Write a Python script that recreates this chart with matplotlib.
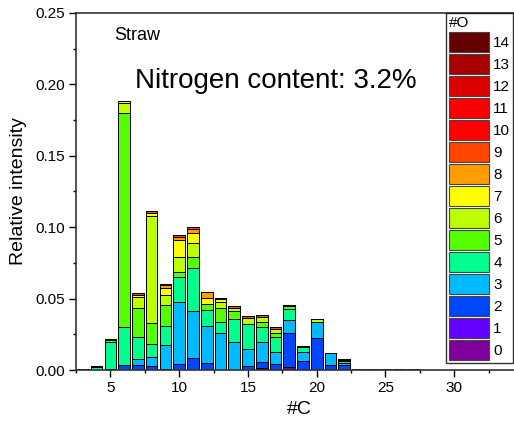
import numpy as np
import matplotlib
matplotlib.use("Agg")
import matplotlib.pyplot as plt
from matplotlib.patches import Patch
from matplotlib.ticker import MultipleLocator, FixedLocator, FormatStrFormatter

plt.rcParams['font.family'] = ['Liberation Sans', 'DejaVu Sans']

# carbon number of each bar
carbons = list(range(3, 28))
#       C: 3       4       5       6       7       8       9       10      11      12      13      14      15      16      17      18      19      20      21      22      23      24      25      26      27
o0  = [0,      0,      0,      0,      0,      0,      0,      0,      0,      0,      0,      0,      0,      0,      0,      0.0023, 0,      0,      0,      0,      0,      0,      0,      0,      0]
o1  = [0,      0,      0,      0,      0,      0,      0,      0,      0,      0,      0,      0,      0,      0.0012, 0,      0,      0,      0,      0,      0,      0,      0,      0,      0,      0]
o2  = [0,      0,      0.0005, 0.0035, 0.0035, 0.0028, 0.0005, 0.0042, 0.0082, 0.0051, 0,      0,      0.0028, 0.0047, 0.0040, 0.0238, 0.0065, 0.0222, 0.0035, 0.0035, 0.0005, 0,      0,      0,      0.0005]
o3  = [0,      0,      0,      0,      0.0040, 0.0065, 0.0170, 0.0437, 0.0334, 0.0257, 0.0257, 0.0198, 0.0117, 0.0135, 0.0089, 0.0089, 0.0058, 0.0117, 0.0086, 0.0012, 0,      0,      0,      0,      0]
o4  = [0.0005, 0.0024, 0.0190, 0.0264, 0.0159, 0.0086, 0.0135, 0.0170, 0.0296, 0.0112, 0.0077, 0.0156, 0.0175, 0.0105, 0.0105, 0.0075, 0.0040, 0,      0,      0.0016, 0,      0,      0,      0,      0]
o5  = [0,      0,      0.0015, 0.1500, 0.0198, 0.0147, 0.0145, 0.0040, 0.0082, 0.0042, 0.0098, 0.0061, 0,      0.0040, 0.0023, 0.0026, 0,      0,      0,      0.0007, 0,      0,      0,      0,      0]
o6  = [0,      0,      0,      0.0070, 0.0082, 0.0754, 0.0070, 0.0105, 0.0098, 0,      0.0047, 0.0016, 0.0042, 0.0035, 0.0028, 0,      0,      0.0016, 0,      0,      0,      0,      0,      0,      0]
o7  = [0,      0,      0,      0.0012, 0.0012, 0.0021, 0.0047, 0.0117, 0.0070, 0.0040, 0.0016, 0,      0,      0,      0,      0,      0,      0,      0,      0,      0,      0,      0,      0,      0]
o8  = [0,      0,      0,      0,      0,      0,      0.0023, 0.0023, 0.0023, 0.0042, 0,      0,      0,      0,      0,      0,      0,      0,      0,      0,      0,      0,      0,      0,      0]
o9  = [0,      0.0005, 0.0010, 0,      0.0010, 0.0010, 0.0007, 0.0012, 0.0019, 0,      0.0007, 0.0016, 0.0016, 0.0012, 0.0019, 0.0005, 0.0007, 0,      0,      0.0007, 0,      0.0004, 0.0008, 0.0004, 0]
o10 = [0] * 25
o11 = [0] * 25
o12 = [0] * 25
o13 = [0] * 25
o14 = [0] * 25
oxygen_labels = [str(i) for i in range(15)]
x_ticks = [5, 10, 15, 20, 25, 30]
colors = ['#7d009c', '#6400ff', '#0046ff', '#00bbff', '#00ff8c', '#55ff00', '#bbff00', '#ffff00',
          '#ff9c00', '#ff4600', '#ff0000', '#fa0000', '#dc0000', '#a80000', '#640000']

series = [o0, o1, o2, o3, o4, o5, o6, o7, o8, o9, o10, o11, o12, o13, o14]

fig = plt.figure(figsize=(5.14, 4.28), dpi=100)
# axes runs past the right edge of the picture, like the original crop
ax = fig.add_axes([76 / 514, 58 / 428, 447 / 514, 357 / 428])

bottom = np.zeros(len(carbons))
for vals, col in zip(series, colors):
    vals = np.array(vals, dtype=float)
    ax.bar(carbons, vals, width=0.85, bottom=bottom, color=col,
           edgecolor='black', linewidth=0.7)
    bottom += vals

ax.set_xlim(2.5, 35)
ax.set_ylim(0, 0.25)
ax.xaxis.set_major_locator(FixedLocator(x_ticks))
ax.xaxis.set_minor_locator(MultipleLocator(2.5))
ax.yaxis.set_major_locator(MultipleLocator(0.05))
ax.yaxis.set_minor_locator(MultipleLocator(0.025))
ax.yaxis.set_major_formatter(FormatStrFormatter('%.2f'))
ax.tick_params(which='major', direction='out', length=5, width=1, labelsize=11, pad=3)
ax.tick_params(which='minor', direction='out', length=2.5, width=1)
ax.spines['right'].set_visible(False)
for s in ['left', 'bottom', 'top']:
    ax.spines[s].set_linewidth(1.2)
    ax.spines[s].set_color('#333333')

ax.set_xlabel('#C', fontsize=14)
ax.set_ylabel('Relative intensity', fontsize=14, labelpad=6)

ax.text(0.0865, 0.938, 'Straw', fontsize=13, transform=ax.transAxes, va='center')
ax.text(0.131, 0.81, 'Nitrogen content: 3.2%', fontsize=20, transform=ax.transAxes, va='center')

handles = [Patch(facecolor=c, edgecolor='#444444', linewidth=0.8) for c in colors][::-1]
leg = fig.legend(handles, oxygen_labels[::-1], title='#O', loc='upper left',
                 bbox_to_anchor=(446 / 514, 1 - 13 / 428), bbox_transform=fig.transFigure,
                 fontsize=11, title_fontsize=11, frameon=True, fancybox=False,
                 borderaxespad=0, borderpad=0.2, handlelength=2.6, handleheight=1.62,
                 labelspacing=0.14, handletextpad=0.3, alignment='left')
leg.get_frame().set_edgecolor('black')
leg.get_frame().set_linewidth(1.0)

fig.savefig('out.png', dpi=100)
